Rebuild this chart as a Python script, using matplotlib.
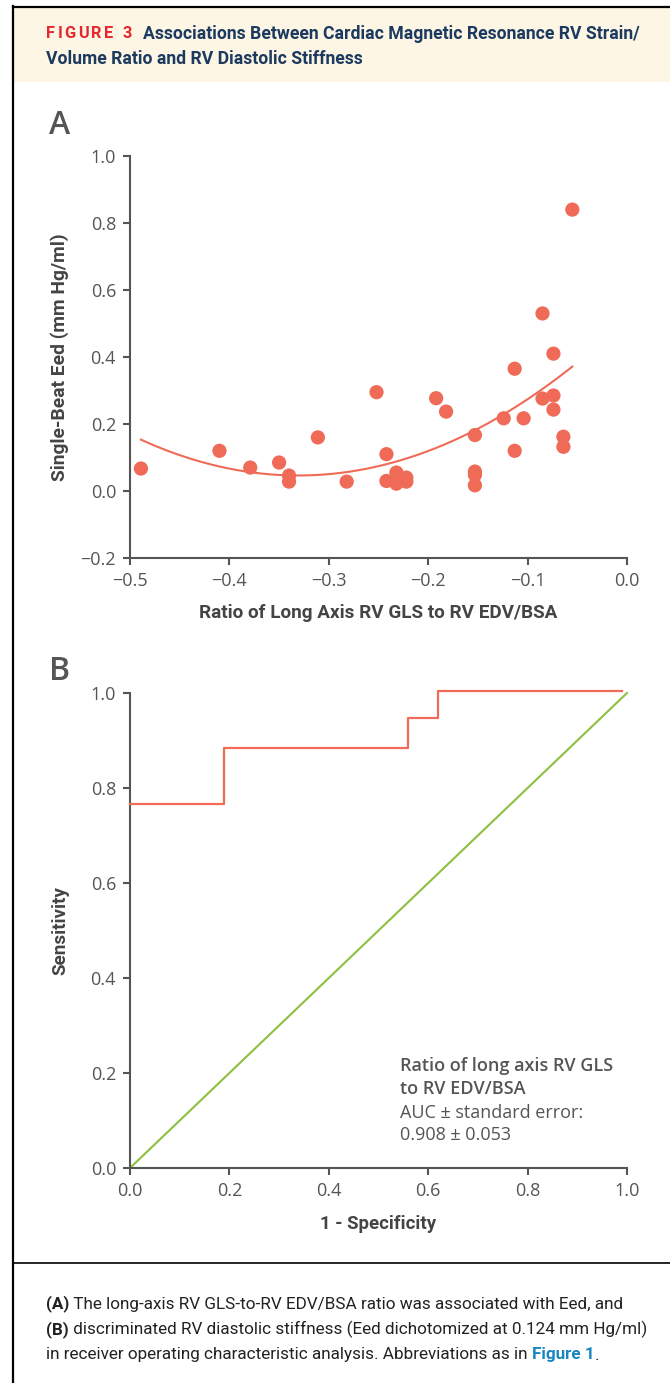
import numpy as np
import matplotlib
matplotlib.use("Agg")
import matplotlib.pyplot as plt
from matplotlib.lines import Line2D
from matplotlib.patches import Rectangle

W, H = 670, 1383

# panel A: RV GLS / (RV EDV/BSA) ratio vs single-beat Eed
ratio = [-0.489, -0.410, -0.379, -0.350, -0.340, -0.340, -0.311, -0.282, -0.252, -0.242,
         -0.242, -0.232, -0.232, -0.222, -0.222, -0.192, -0.182, -0.153, -0.153, -0.153,
         -0.153, -0.124, -0.113, -0.113, -0.104, -0.085, -0.085, -0.074, -0.074, -0.074,
         -0.064, -0.064, -0.055]
eed = [0.067, 0.120, 0.070, 0.085, 0.046, 0.028, 0.160, 0.028, 0.295, 0.110,
       0.030, 0.055, 0.022, 0.040, 0.028, 0.277, 0.237, 0.167, 0.058, 0.048,
       0.017, 0.217, 0.365, 0.120, 0.217, 0.530, 0.276, 0.410, 0.285, 0.243,
       0.162, 0.132, 0.840]

# panel B: ROC curve (1 - specificity, sensitivity)
fpr = [0.0, 0.19, 0.19, 0.56, 0.56, 0.62, 0.62, 0.99]
tpr = [0.767, 0.767, 0.885, 0.885, 0.948, 0.948, 1.005, 1.005]
ref_line = [0.0, 1.0]

RED = "#ef6b57"
GREEN = "#8dbf41"
GREY = "#555555"
NARROW = ["Roboto", "DejaVu Sans"]
SANS = ["Open Sans", "DejaVu Sans"]

fig = plt.figure(figsize=(W / 100, H / 100), dpi=100)
fig.patch.set_facecolor("white")
renderer = fig.canvas.get_renderer()


def fx(px):
    return px / W


def fy(py):
    return 1 - py / H


def fit(t, target):
    # rescale a text so its long side spans target pixels
    bb = t.get_window_extent(renderer)
    t.set_fontsize(t.get_fontsize() * target / max(bb.width, bb.height))
    return t.get_fontsize()


def fmt(v, p):
    s = f"{v:.1f}"
    if s == "-0.0":
        s = "0.0"
    return s.replace("-", "\u2212")


# frame and header band
fig.patches.append(Rectangle((fx(14), fy(82)), fx(W - 14), 74 / H,
                             transform=fig.transFigure, facecolor="#fdf6e4",
                             edgecolor="none", zorder=0))
fig.lines.append(Line2D([fx(13), fx(13)], [fy(6), fy(H)], color="black", lw=1.6,
                        transform=fig.transFigure))
fig.lines.append(Line2D([fx(13), fx(W)], [fy(6.5), fy(6.5)], color="black", lw=1.6,
                        transform=fig.transFigure))
fig.lines.append(Line2D([fx(13), fx(W)], [fy(1263), fy(1263)], color="black", lw=1.2,
                        transform=fig.transFigure))

# "FIGURE 3" with letter spacing
x = 46
for ch in "FIGURE 3":
    t = fig.text(fx(x), fy(34), ch, color="#e8262d", fontsize=11.8,
                 fontweight="bold", family=NARROW, va="center")
    x += t.get_window_extent(renderer).width + (2.4 if ch != " " else 3)
t1 = fig.text(fx(143), fy(34), "Associations Between Cardiac Magnetic Resonance RV Strain/",
              color="#1c3a60", fontsize=12, fontweight="bold", family=NARROW, va="center")
size = fit(t1, 497)
fig.text(fx(46), fy(59), "Volume Ratio and RV Diastolic Stiffness",
         color="#1c3a60", fontsize=size, fontweight="bold", family=NARROW, va="center")

fig.text(fx(49), fy(125), "A", color=GREY, fontsize=23, family=SANS,
         fontweight="semibold", va="center")
fig.text(fx(49), fy(672), "B", color=GREY, fontsize=23, family=SANS,
         fontweight="semibold", va="center")


def style(ax):
    for side in ("top", "right"):
        ax.spines[side].set_visible(False)
    for side in ("left", "bottom"):
        ax.spines[side].set_color(GREY)
        ax.spines[side].set_linewidth(1.5)
    ax.tick_params(direction="out", length=5, width=1.5, color=GREY,
                   labelcolor=GREY, labelsize=13, pad=5)
    ax.xaxis.set_major_formatter(plt.FuncFormatter(fmt))
    ax.yaxis.set_major_formatter(plt.FuncFormatter(fmt))
    for lab in ax.get_xticklabels() + ax.get_yticklabels():
        lab.set_family(SANS)


def labels(ax, xlab, ylab, xw, yw, xy):
    ax.set_xlabel(xlab, fontsize=12, fontweight="bold", color="#444444", family=NARROW)
    ax.xaxis.set_label_coords(0.5, xy)
    ax.xaxis.label.set_va("center")
    ax.set_ylabel(ylab, fontsize=12, fontweight="bold", color="#444444", family=NARROW)
    ax.yaxis.set_label_coords(-0.141, 0.5)
    ax.yaxis.label.set_va("center")
    fit(ax.xaxis.label, xw)
    fit(ax.yaxis.label, yw)


# panel A
axA = fig.add_axes([fx(130), fy(558), (627 - 130) / W, (558 - 156) / H])
axA.scatter(ratio, eed, s=105, color=RED, edgecolors="none", zorder=3, clip_on=False)
coef = np.polyfit(ratio, eed, 2)
xs = np.linspace(min(ratio), max(ratio), 200)
axA.plot(xs, np.polyval(coef, xs), color=RED, lw=1.5, zorder=2)
axA.set_xlim(-0.5, 0.0)
axA.set_ylim(-0.2, 1.0)
axA.set_xticks(np.round(np.arange(-0.5, 0.01, 0.1), 1))
axA.set_yticks(np.round(np.arange(-0.2, 1.01, 0.2), 1))
style(axA)
labels(axA, "Ratio of Long Axis RV GLS to RV EDV/BSA", "Single-Beat Eed (mm Hg/ml)",
       357, 247, -0.137)

# panel B
axB = fig.add_axes([fx(130), fy(1168), (627 - 130) / W, (1168 - 693) / H])
axB.plot(ref_line, ref_line, color=GREEN, lw=1.5, zorder=2, clip_on=False)
axB.plot(fpr, tpr, color=RED, lw=1.6, zorder=3, clip_on=False)
axB.set_xlim(0, 1)
axB.set_ylim(0, 1)
axB.set_xticks(np.round(np.arange(0, 1.01, 0.2), 1))
axB.set_yticks(np.round(np.arange(0, 1.01, 0.2), 1))
style(axB)
labels(axB, "1 - Specificity", "Sensitivity", 116, 89, -0.118)

ann = [("Ratio of long axis RV GLS", "semibold", 1066),
       ("to RV EDV/BSA", "semibold", 1089),
       ("AUC \u00b1 standard error:", "normal", 1113),
       ("0.908 \u00b1 0.053", "normal", 1135)]
for s, weight, y in ann:
    fig.text(fx(400), fy(y), s, fontsize=13, fontweight=weight, color=GREY,
             family=SANS, va="center")

# caption, written piece by piece so bold and coloured runs line up
caption = [
    [("(A)", "bold", "#222222"),
     (" The long-axis RV GLS-to-RV EDV/BSA ratio was associated with Eed, and", "normal", "#222222")],
    [("(B)", "bold", "#222222"),
     (" discriminated RV diastolic stiffness (Eed dichotomized at 0.124 mm Hg/ml)", "normal", "#222222")],
    [("in receiver operating characteristic analysis. Abbreviations as in ", "normal", "#222222"),
     ("Figure 1", "bold", "#1a86c0"), (".", "normal", "#222222")],
]
# size the caption so its longest line spans the box
probe = fig.text(0, 0, "".join(s for s, _, _ in caption[1]), fontsize=12,
                 family=NARROW)
cap_size = fit(probe, 600)
probe.remove()
for i, line in enumerate(caption):
    x = fx(46)
    for s, weight, col in line:
        t = fig.text(x, fy(1304 + 25.5 * i), s, fontsize=cap_size, fontweight=weight,
                     color=col, family=NARROW, va="center")
        bb = t.get_window_extent(renderer)
        x += bb.width / W

fig.savefig("out.png", dpi=100)
